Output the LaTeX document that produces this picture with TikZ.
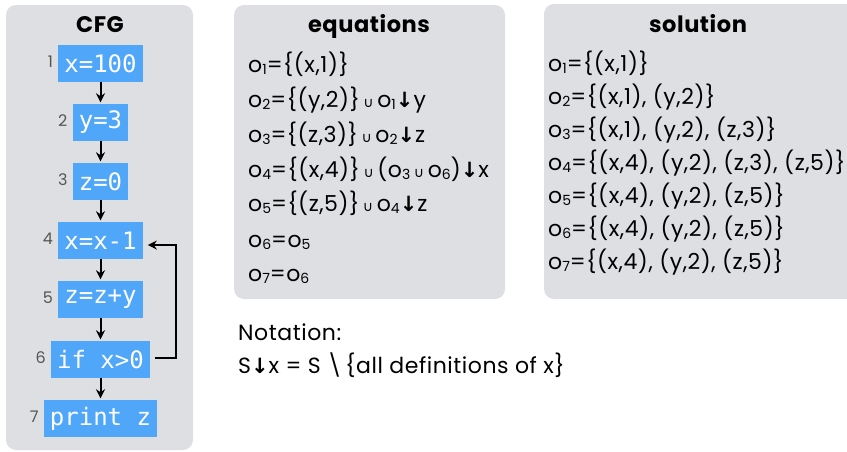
\documentclass[tikz,border=0pt]{standalone}
\usepackage{fontspec}
\setmainfont[LetterSpace=2.5]{Poppins}
\newfontfamily\symf{DejaVu Sans}
\newfontfamily\monof{DejaVu Sans Mono}
\usetikzlibrary{arrows.meta,positioning}
\definecolor{panelgray}{RGB}{222,223,226}
\definecolor{cfgblue}{RGB}{80,167,250}
\definecolor{numgray}{RGB}{85,85,85}
\newcommand\sbs[1]{\raisebox{-2.5pt}{\fontsize{14}{14}\selectfont #1}}
\newcommand\cupx{\,{\symf\fontsize{14}{14}\selectfont ∪}\,}
\newcommand\dn{{\symf\bfseries\fontsize{21}{21}\selectfont ↓}}
\tikzset{
  panel/.style={fill=panelgray, draw=none, rounded corners=10pt},
  title/.style={font=\fontseries{sb}\selectfont\fontsize{22.5}{22.5}\selectfont, anchor=base, inner sep=0pt},
  cfgbox/.style={fill=cfgblue, text=white, font=\monof\fontsize{24}{24}\selectfont,
    minimum height=37pt, inner xsep=6pt, inner ysep=0pt},
  num/.style={text=numgray, font=\fontsize{16}{16}\selectfont, anchor=east, inner sep=0pt, xshift=-5pt},
  eq/.style={anchor=base west, inner sep=0pt, font=\fontsize{22}{22}\selectfont},
  flow/.style={line width=2pt, -{Stealth[length=9pt,width=9pt]}, shorten >=1.5pt},
}
\begin{document}
\begin{tikzpicture}[x=1pt,y=-1pt]
\useasboundingbox (0,0) rectangle (847,451);
% panels
\fill[panel] (6,5) rectangle (193,450);
\fill[panel] (234,5) rectangle (505,299);
\fill[panel] (544,4) rectangle (857,299);
% titles
\node[title] (tcfg) at (100,32) {CFG};
\node[title] (teq) at (369,32) {equations};
\node[title] (tsol) at (698,32) {solution};
% CFG boxes
\node[cfgbox] (b1) at (100.5,63.5) {x=100};
\node[cfgbox] (b2) at (100.5,122.5) {y=3};
\node[cfgbox] (b3) at (100.5,181.5) {z=0};
\node[cfgbox] (b4) at (100.5,240.5) {x=x-1};
\node[cfgbox] (b5) at (100.5,299.5) {z=z+y};
\node[cfgbox] (b6) at (100.5,359.5) {if x>0};
\node[cfgbox] (b7) at (100.5,418.5) {print z};
\foreach \i in {1,...,7} {\node[num] (n\i) at ([yshift=1.5pt]b\i.west) {\i};}
% arrows
\draw[flow] (b1) -- (b2);
\draw[flow] (b2) -- (b3);
\draw[flow] (b3) -- (b4);
\draw[flow] (b4) -- (b5);
\draw[flow] (b5) -- (b6);
\draw[flow] (b6) -- (b7);
\coordinate (lr) at (176,0);
\coordinate (lt) at ([yshift=-4.5pt]b4.east);
\draw[flow, shorten >=5pt] ([xshift=5pt,yshift=1.5pt]b6.east) -| (lr |- lt) -- (lt);
% equations
\node[eq] (e1) at (248,72) {o\sbs{1}=\{(x,1)\}};
\node[eq] (e2) at (248,107) {o\sbs{2}=\{(y,2)\}\cupx o\sbs{1}\dn y};
\node[eq] (e3) at (248,142) {o\sbs{3}=\{(z,3)\}\cupx o\sbs{2}\dn z};
\node[eq] (e4) at (248,177) {o\sbs{4}=\{(x,4)\}\cupx (o\sbs{3}\cupx o\sbs{6})\dn x};
\node[eq] (e5) at (248,211) {o\sbs{5}=\{(z,5)\}\cupx o\sbs{4}\dn z};
\node[eq] (e6) at (248,247) {o\sbs{6}=o\sbs{5}};
\node[eq] (e7) at (248,281) {o\sbs{7}=o\sbs{6}};
% solution
\node[eq] (s1) at (548,71) {o\sbs{1}=\{(x,1)\}};
\node[eq] (s2) at (548,104) {o\sbs{2}=\{(x,1), (y,2)\}};
\node[eq] (s3) at (548,137) {o\sbs{3}=\{(x,1), (y,2), (z,3)\}};
\node[eq] (s4) at (548,170) {o\sbs{4}=\{(x,4), (y,2), (z,3), (z,5)\}};
\node[eq] (s5) at (548,203) {o\sbs{5}=\{(x,4), (y,2), (z,5)\}};
\node[eq] (s6) at (548,236) {o\sbs{6}=\{(x,4), (y,2), (z,5)\}};
\node[eq] (s7) at (548,269) {o\sbs{7}=\{(x,4), (y,2), (z,5)\}};
% notation
\node[eq] (not1) at (238,340) {Notation:};
\node[eq] (not2) at (238,373) {S\dn x = S \textbackslash\,\{all definitions of x\}};
\end{tikzpicture}
\end{document}
